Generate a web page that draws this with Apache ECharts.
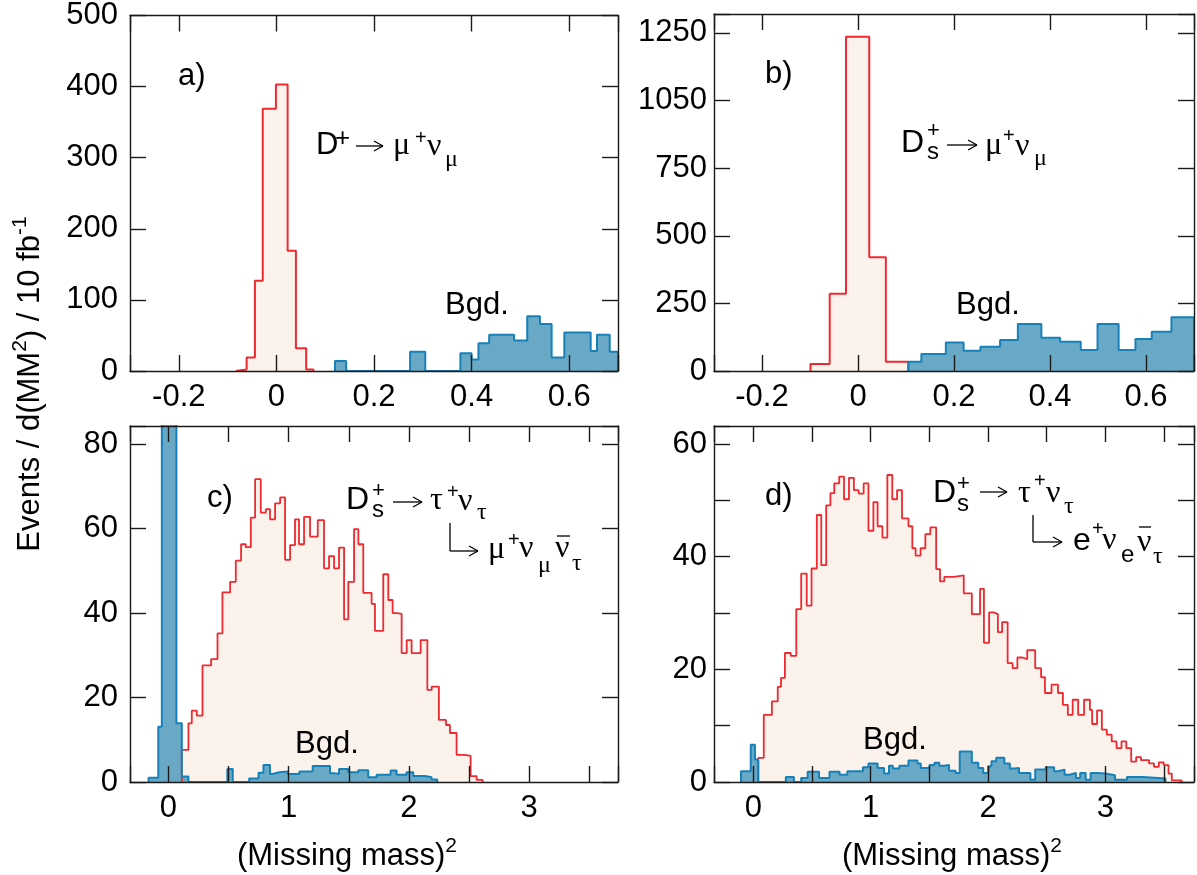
<!DOCTYPE html>
<html>
<head>
<meta charset="utf-8">
<script src="https://cdn.jsdelivr.net/npm/echarts@6/dist/echarts.min.js"></script>
<style>
  html, body { margin: 0; background: #fff; }
  #chart { width: 1197px; height: 875px; }
</style>
</head>
<body>
<div id="chart"></div>
<script>
// ---- histogram data (bin edges + contents) ----
// a) D+ -> mu nu
const aSigEdges = [-0.083, -0.061, -0.044, -0.028, -0.001, 0.023, 0.040, 0.061, 0.076];
const aSigCounts = [2, 19, 127, 369, 403, 169, 32, 2];
const aBgdEdges = [0.120, 0.143, 0.274, 0.305, 0.377, 0.400, 0.414, 0.436, 0.487, 0.514, 0.540, 0.564, 0.590, 0.644, 0.657, 0.683, 0.700];
const aBgdCounts = [14, 0, 27, 0, 25, 16, 39, 51, 43, 77, 66, 19, 54, 28, 51, 27];

// b) Ds -> mu nu
const bSigEdges = [-0.099, -0.059, -0.025, 0.0235, 0.058, 0.105];
const bSigCounts = [26, 286, 1236, 421, 34];
const bBgdEdges = [0.105, 0.132, 0.183, 0.220, 0.255, 0.296, 0.333, 0.382, 0.421, 0.464, 0.499, 0.543, 0.578, 0.612, 0.653, 0.700];
const bBgdCounts = [34, 63, 105, 75, 90, 115, 174, 123, 108, 78, 174, 78, 118, 145, 199];
const bYTicks = [0, 250, 500, 750, 1000, 1250];
const bYLabels = ['0', '250', '500', '750', '1050', '1250'];

// c) Ds -> tau nu, tau -> mu nu nu
const cSigEdges = [0.111, 0.166, 0.194, 0.236, 0.283, 0.355, 0.408, 0.449, 0.513, 0.560, 0.604, 0.643, 0.685, 0.721, 0.768, 0.810, 0.845, 0.887, 0.929, 0.970, 1.012, 1.053, 1.086, 1.128, 1.178, 1.242, 1.294, 1.336, 1.378, 1.419, 1.461, 1.496, 1.544, 1.580, 1.621, 1.690, 1.718, 1.787, 1.829, 1.865, 1.904, 1.940, 1.982, 2.023, 2.098, 2.154, 2.190, 2.250, 2.309, 2.342, 2.397, 2.467, 2.514, 2.564, 2.614];
const cSigCounts = [7.6, 13.9, 16.9, 15.7, 27.6, 29.1, 35.2, 44.9, 47.4, 52.4, 56.3, 55.6, 62.6, 71.7, 63.8, 64.6, 62.2, 66.0, 67.4, 52.6, 56.1, 62.2, 56.3, 62.8, 58.1, 62.0, 50.6, 53.5, 50.6, 55.5, 38.5, 47.4, 59.9, 56.3, 44.8, 42.2, 35.8, 49.2, 43.1, 40.0, 39.8, 30.5, 33.6, 30.5, 33.6, 21.8, 22.6, 14.7, 13.5, 11.6, 6.4, 6.2, 1.4, 0.5];
const cBgdEdges = [-0.166, -0.085, -0.055, 0.066, 0.111, 0.166, 0.490, 0.535, 0.671, 0.749, 0.790, 0.845, 0.867, 0.923, 0.992, 1.089, 1.200, 1.344, 1.377, 1.419, 1.496, 1.579, 1.662, 1.732, 1.848, 1.898, 1.981, 2.037, 2.134, 2.189, 2.236];
const cBgdCounts = [1.0, 13.1, 200, 13.9, 1.3, 0, 3.1, 0, 0.8, 2.2, 4.0, 1.9, 2.3, 2.5, 1.9, 2.5, 3.8, 2.1, 1.9, 3.1, 2.3, 2.8, 1.1, 1.7, 2.7, 1.7, 2.3, 1.4, 1.1, 0.6];

// d) Ds -> tau nu, tau -> e nu nu
const dSigEdges = [0.042, 0.089, 0.158, 0.208, 0.236, 0.269, 0.319, 0.366, 0.408, 0.455, 0.496, 0.541, 0.579, 0.621, 0.657, 0.690, 0.732, 0.773, 0.815, 0.857, 0.898, 0.940, 0.981, 1.023, 1.059, 1.100, 1.142, 1.184, 1.225, 1.267, 1.322, 1.355, 1.383, 1.425, 1.466, 1.508, 1.558, 1.591, 1.627, 1.710, 1.793, 1.862, 1.932, 1.965, 2.009, 2.048, 2.084, 2.120, 2.167, 2.209, 2.250, 2.292, 2.334, 2.402, 2.452, 2.485, 2.541, 2.596, 2.638, 2.680, 2.721, 2.768, 2.818, 2.868, 2.887, 2.929, 2.970, 3.012, 3.054, 3.095, 3.137, 3.178, 3.220, 3.262, 3.303, 3.372, 3.414, 3.455, 3.497, 3.538, 3.566, 3.649];
const dSigCounts = [4.3, 11.9, 14.3, 16.9, 18.5, 22.9, 22.4, 30.7, 37.0, 31.3, 37.9, 47.4, 38.5, 49.1, 51.3, 53.0, 54.2, 50.2, 54.0, 51.8, 51.2, 53.0, 44.6, 49.7, 45.4, 43.4, 54.5, 50.2, 51.8, 46.8, 45.4, 41.5, 40.2, 41.5, 44.0, 45.2, 37.8, 35.6, 36.4, 36.7, 33.5, 29.8, 34.3, 24.7, 30.1, 29.8, 26.6, 28.4, 21.1, 20.2, 22.1, 21.8, 23.4, 20.2, 18.6, 15.8, 17.3, 15.8, 13.7, 11.9, 14.6, 11.9, 14.6, 12.8, 10.3, 12.7, 9.3, 8.4, 7.2, 6.0, 7.2, 6.0, 3.6, 4.4, 3.9, 3.3, 2.7, 3.5, 3.0, 1.5, 0.3];
const dBgdEdges = [-0.105, -0.022, 0.014, 0.042, 0.277, 0.346, 0.408, 0.463, 0.560, 0.649, 0.735, 0.801, 0.934, 0.981, 1.059, 1.114, 1.156, 1.189, 1.244, 1.322, 1.399, 1.427, 1.501, 1.543, 1.585, 1.626, 1.668, 1.723, 1.759, 1.862, 1.917, 1.959, 2.001, 2.029, 2.070, 2.139, 2.186, 2.222, 2.264, 2.361, 2.402, 2.491, 2.563, 2.596, 2.652, 2.693, 2.749, 2.785, 2.832, 2.874, 2.929, 2.999, 3.082, 3.184, 3.323, 3.512];
const dBgdCounts = [1.9, 6.6, 4.0, 0, 0.9, 0, 0.7, 1.8, 0.7, 1.8, 1.3, 1.9, 2.6, 3.3, 2.5, 1.5, 2.9, 2.4, 2.9, 3.8, 3.3, 2.5, 3.0, 3.4, 2.9, 3.0, 2.0, 1.6, 5.4, 3.4, 2.5, 1.6, 2.8, 3.7, 4.3, 3.3, 2.4, 2.5, 1.6, 0.4, 2.2, 2.6, 1.9, 2.2, 1.3, 1.6, 0.7, 1.6, 0.4, 1.6, 1.5, 1.2, 0.4, 0.9, 0.6];

const RED = '#ee2a30', RED_FILL = '#fcf2ec';
const BLUE = '#1681b8', BLUE_FILL = '#6aa9c6';
const INK = '#1a1a1a';
const SANS = '"Liberation Sans", Arial, sans-serif';
const SERIF = '"Liberation Serif", "Times New Roman", serif';

// turn bin edges + counts into points for a step line
function steps(edges, counts) {
  const pts = [[edges[0], 0]];
  counts.forEach((c, i) => pts.push([edges[i], c]));
  pts.push([edges[edges.length - 1], 0]);
  return pts;
}

function nearMultiple(v, step) {
  return Math.abs(v / step - Math.round(v / step)) < 1e-6;
}

const labelStyle = { color: '#000', fontSize: 31, fontFamily: SANS };
const lineStyle = { color: INK, width: 1.4 };

function xAxes(grid, min, max, step, fmt) {
  const base = {
    type: 'value', gridIndex: grid, min: min, max: max,
    minInterval: step, maxInterval: step, splitNumber: 8,
    axisLine: { show: true, onZero: false, lineStyle: lineStyle },
    axisTick: { show: true, inside: true, length: 16, lineStyle: lineStyle },
    splitLine: { show: false }, z: 10
  };
  return [
    Object.assign({}, base, { position: 'bottom', axisLabel: Object.assign({ margin: 11, formatter: fmt }, labelStyle) }),
    Object.assign({}, base, { position: 'top', axisLabel: { show: false } })
  ];
}

function yAxes(grid, max, step, fmt, margin) {
  const base = {
    type: 'value', gridIndex: grid, min: 0, max: max, interval: step,
    axisLine: { show: true, onZero: false, lineStyle: lineStyle },
    axisTick: { show: true, inside: true, length: 16, lineStyle: lineStyle },
    splitLine: { show: false }, z: 10
  };
  return [
    Object.assign({}, base, { position: 'left', axisLabel: Object.assign({ margin: margin, formatter: fmt }, labelStyle) }),
    Object.assign({}, base, { position: 'right', axisLabel: { show: false } })
  ];
}

const fmtTenths = v => nearMultiple(v, 0.2) ? String(Math.round(v * 10) / 10) : '';
const fmtInt = v => nearMultiple(v, 1) ? String(Math.round(v)) : '';

function hist(grid, edges, counts, color, fill, width) {
  return {
    type: 'line', xAxisIndex: grid * 2, yAxisIndex: grid * 2,
    data: steps(edges, counts), step: 'end', symbol: 'none', clip: true,
    lineStyle: { color: color, width: width },
    areaStyle: { color: fill, opacity: 1 },
    silent: true, animation: false
  };
}

// annotation glyphs: [text, left x, middle y, size, family]
const glyphs = [
  ['a)', 178, 76, 31, SANS],
  ['D', 316, 145, 31, SANS], ['+', 335, 139, 26, SANS],
  ['\u03bc', 393, 146, 32, SERIF], ['+', 415, 138, 20, SANS], ['\u03bd', 427, 147, 32, SERIF], ['\u03bc', 445, 160, 24, SERIF],
  ['Bgd.', 445, 305, 31, SANS],

  ['b)', 765, 74, 31, SANS],
  ['D', 901, 143, 32, SANS], ['+', 927, 131, 22, SANS], ['s', 927, 152, 24, SANS],
  ['\u03bc', 985, 146, 32, SERIF], ['+', 1003, 136, 20, SANS], ['\u03bd', 1015, 147, 32, SERIF], ['\u03bc', 1034, 159, 24, SERIF],
  ['Bgd.', 956, 305, 31, SANS],

  ['c)', 207, 498, 31, SANS],
  ['D', 346, 500, 32, SANS], ['+', 372, 491, 22, SANS], ['s', 372, 510, 24, SANS],
  ['\u03c4', 430, 501, 32, SERIF], ['+', 447, 492, 20, SANS], ['\u03bd', 458, 502, 32, SERIF], ['\u03c4', 477, 513, 24, SERIF],
  ['\u03bc', 488, 550, 32, SERIF], ['+', 508, 540, 20, SANS], ['\u03bd', 519, 549, 32, SERIF], ['\u03bc', 538, 566, 24, SERIF],
  ['\u03bd', 555, 549, 32, SERIF], ['\u03c4', 572, 564, 24, SERIF],
  ['Bgd.', 295, 744, 31, SANS],

  ['d)', 765, 496, 31, SANS],
  ['D', 933, 493, 32, SANS], ['+', 957, 484, 22, SANS], ['s', 957, 504, 24, SANS],
  ['\u03c4', 1018, 494, 32, SERIF], ['+', 1034, 481, 20, SANS], ['\u03bd', 1046, 494, 32, SERIF], ['\u03c4', 1064, 507, 24, SERIF],
  ['e', 1073, 541, 32, SANS], ['+', 1092, 529, 20, SANS], ['\u03bd', 1102, 541, 32, SERIF], ['e', 1121, 555, 24, SANS],
  ['\u03bd', 1137, 543, 32, SERIF], ['\u03c4', 1153, 557, 24, SERIF],
  ['Bgd.', 863, 740, 31, SANS]
];
// decay arrows: [x from, x to, y]
const arrows = [
  [356, 383, 146], [947, 977, 145],
  [393, 422, 502], [450, 478, 551],
  [980, 1007, 492], [1033, 1062, 542]
];
// hooks of the cascade decays and the bars over the antineutrinos
const strokes = [
  [450, 523, 450, 551], [557, 536, 570, 536],
  [1033, 515, 1033, 542], [1139, 527, 1151, 527]
];
arrows.forEach(a => {
  strokes.push([a[0], a[2], a[1], a[2]]);
  strokes.push([a[1] - 9, a[2] - 5, a[1], a[2]]);
  strokes.push([a[1] - 9, a[2] + 5, a[1], a[2]]);
});

const graphic = glyphs.map(g => ({
  type: 'text', x: g[1], y: g[2], silent: true, z: 20,
  style: { text: g[0], fontSize: g[3], fontFamily: g[4], fill: '#000', align: 'left', verticalAlign: 'middle' }
})).concat(strokes.map(s => ({
  type: 'line', silent: true, z: 20,
  shape: { x1: s[0], y1: s[1], x2: s[2], y2: s[3] },
  style: { stroke: '#000', lineWidth: 1.3 }
})));

const rich = {
  m: { fontSize: 31, fontFamily: SANS, fill: '#000', lineHeight: 40 },
  s: { fontSize: 21, fontFamily: SANS, fill: '#000', lineHeight: 18, verticalAlign: 'top' }
};
graphic.push({
  type: 'text', x: 30, y: 384, rotation: Math.PI / 2, silent: true,
  style: { text: '{m|Events / d(MM}{s|2}{m|) / 10 fb}{s|-1}', rich: rich, align: 'center', verticalAlign: 'middle' }
});
[347, 952].forEach(cx => graphic.push({
  type: 'text', x: cx, y: 856, silent: true,
  style: { text: '{m|(Missing mass)}{s|2}', rich: rich, align: 'center', verticalAlign: 'middle' }
}));

const chart = echarts.init(document.getElementById('chart'));
chart.setOption({
  animation: false,
  backgroundColor: '#fff',
  grid: [
    { left: 130, top: 14, width: 488, height: 357 },
    { left: 714, top: 14, width: 493, height: 357 },
    { left: 130, top: 426, width: 488, height: 356 },
    { left: 714, top: 426, width: 492, height: 356 }
  ],
  xAxis: [].concat(
    xAxes(0, -0.3, 0.7, 0.2, fmtTenths),
    xAxes(1, -0.3, 0.7, 0.2, fmtTenths),
    xAxes(2, -0.32, 3.74, 0.5, fmtInt),
    xAxes(3, -0.335, 3.755, 0.5, fmtInt)
  ),
  yAxis: [].concat(
    yAxes(0, 500, 100, v => String(v), 12),
    yAxes(1, 1320, 250, v => { const i = bYTicks.indexOf(v); return i < 0 ? '' : bYLabels[i]; }, 7),
    yAxes(2, 84.3, 20, v => nearMultiple(v, 20) ? String(v) : '', 12),
    yAxes(3, 63.2, 10, v => nearMultiple(v, 20) ? String(v) : '', 7)
  ),
  series: [
    hist(0, aSigEdges, aSigCounts, RED, RED_FILL, 2),
    hist(0, aBgdEdges, aBgdCounts, BLUE, BLUE_FILL, 2),
    hist(1, bSigEdges, bSigCounts, RED, RED_FILL, 2),
    hist(1, bBgdEdges, bBgdCounts, BLUE, BLUE_FILL, 2),
    hist(2, cSigEdges, cSigCounts, RED, RED_FILL, 1.8),
    hist(2, cBgdEdges, cBgdCounts, BLUE, BLUE_FILL, 2),
    hist(3, dSigEdges, dSigCounts, RED, RED_FILL, 1.8),
    hist(3, dBgdEdges, dBgdCounts, BLUE, BLUE_FILL, 2)
  ],
  graphic: graphic
});
</script>
</body>
</html>
